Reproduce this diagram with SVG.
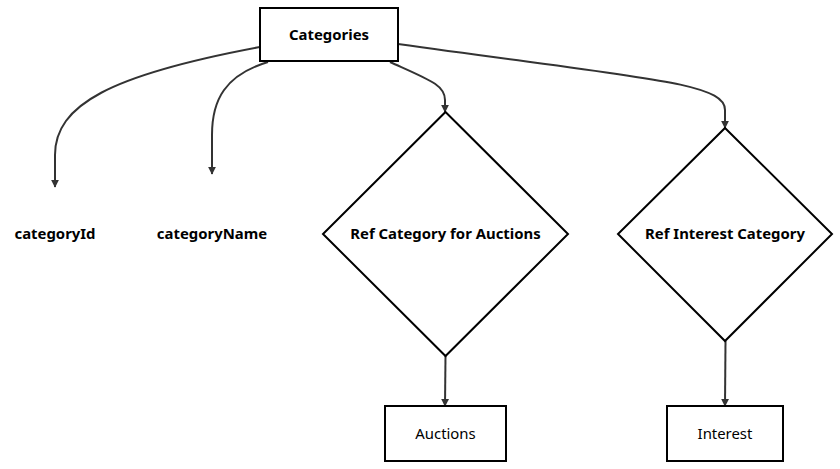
<svg xmlns="http://www.w3.org/2000/svg" width="840" height="469" viewBox="0 0 840 469">
<style>
.shape{fill:#fff;stroke:#000;stroke-width:2}
.edge{fill:none;stroke:#333;stroke-width:2}
text{font-family:"Noto Sans","DejaVu Sans",sans-serif;font-size:14.9px;fill:#000;text-anchor:middle;dominant-baseline:central}
.b{font-weight:bold}
</style>
<defs>
<marker id="arr" viewBox="0 0 10 10" refX="9" refY="5" markerWidth="8" markerHeight="8" orient="auto" markerUnits="userSpaceOnUse">
<path d="M0,0 L10,5 L0,10 z" fill="#333"/>
</marker>
</defs>
<rect width="840" height="469" fill="#fff"/>
<g id="connectors">
<path class="edge" d="M260,47 C110,75 55,105 55,155 L55,187" marker-end="url(#arr)"/>
<path class="edge" d="M268,62 C225,75 212,100 212,135 L212,174" marker-end="url(#arr)"/>
<path class="edge" d="M390,62 C430,80 445,85 445,100 L445,112" marker-end="url(#arr)"/>
<path class="edge" d="M398,44 C640,78 725,82 725,110 L725,128" marker-end="url(#arr)"/>
<path class="edge" d="M445.5,356 L445,406" marker-end="url(#arr)"/>
<path class="edge" d="M725.5,341 L725,406" marker-end="url(#arr)"/>
</g>
<g id="categories">
<rect class="shape" x="260" y="8" width="138" height="53"/>
<text class="b" x="329" y="33.5">Categories</text>
</g>
<g id="categoryId">
<text class="b" x="55" y="233">categoryId</text>
</g>
<g id="categoryName">
<text class="b" x="212" y="233">categoryName</text>
</g>
<g id="refAuctions">
<polygon class="shape" points="445.5,112 568,234 445.5,356 323,234"/>
<text class="b" x="445.5" y="233">Ref Category for Auctions</text>
</g>
<g id="refInterest">
<polygon class="shape" points="725,128 832,234 725,341 618,234"/>
<text class="b" x="725" y="233">Ref Interest Category</text>
</g>
<g id="auctions">
<rect class="shape" x="385" y="406" width="121" height="55"/>
<text x="445.5" y="432.5">Auctions</text>
</g>
<g id="interest">
<rect class="shape" x="667" y="406" width="116" height="55"/>
<text x="725" y="432.5">Interest</text>
</g>
</svg>
